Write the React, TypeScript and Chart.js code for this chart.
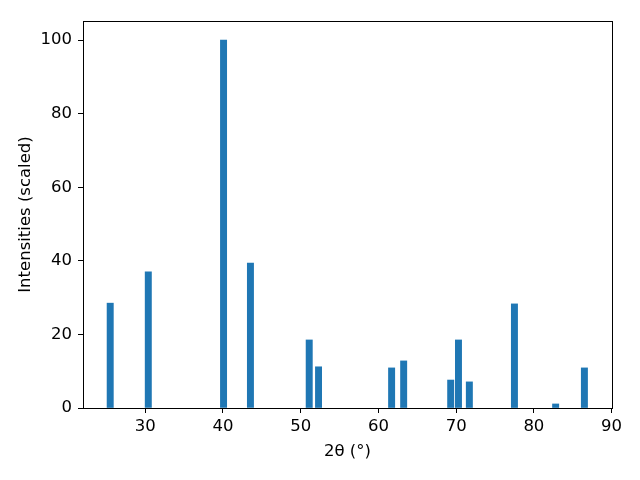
import React, { useEffect, useRef } from "react";
import { Chart, registerables } from "chart.js";

Chart.register(...registerables);

const twoTheta = [25.5, 30.4, 40.08, 43.54, 51.1, 52.3, 61.7, 63.25, 69.3, 70.3, 71.7, 77.5, 82.8, 86.5];
const intensities = [28.5, 37.0, 100, 39.4, 18.5, 11.2, 10.9, 12.8, 7.6, 18.5, 7.1, 28.3, 1.1, 10.9];
const xTicks = [30, 40, 50, 60, 70, 80, 90];
const yTicks = [0, 20, 40, 60, 80, 100];

const FONT = "'DejaVu Sans', sans-serif";
const FS = 16.5;

const frame = {
  id: "frame",
  afterDraw(chart: any) {
    const { ctx, chartArea: a } = chart;
    ctx.save();
    ctx.strokeStyle = "#000";
    ctx.lineWidth = 1;
    ctx.strokeRect(Math.round(a.left) + 0.5, Math.round(a.top) + 0.5, Math.round(a.right - a.left), Math.round(a.bottom - a.top));
    ctx.restore();
  },
};

export default function App() {
  const ref = useRef<HTMLCanvasElement>(null);
  useEffect(() => {
    document.body.style.margin = "0";
    const chart = new Chart(ref.current!, {
      type: "bar",
      data: {
        datasets: [
          {
            data: twoTheta.map((x, i) => ({ x, y: intensities[i] })),
            backgroundColor: "#1f77b4",
            barThickness: 6.3,
            borderWidth: 0,
          },
        ],
      },
      plugins: [frame],
      options: {
        animation: false,
        responsive: false,
        layout: { padding: { left: 0, top: 21, right: 28, bottom: 0 } },
        plugins: { legend: { display: false }, tooltip: { enabled: false } },
        scales: {
          x: {
            type: "linear",
            min: 22,
            max: 90.05,
            offset: false,
            afterBuildTicks: (s: any) => {
              s.ticks = xTicks.map((v) => ({ value: v }));
            },
            afterFit: (s: any) => {
              s.height = 72;
            },
            grid: { offset: false, drawOnChartArea: false, drawTicks: true, tickLength: 5, color: "#000" },
            border: { display: true, color: "#000" },
            ticks: { color: "#000", font: { family: FONT, size: FS }, padding: 4, maxRotation: 0 },
            title: { display: true, text: "2θ (°)", color: "#000", font: { family: FONT, size: FS }, padding: { top: 0, bottom: 18 } },
          },
          y: {
            type: "linear",
            min: 0,
            max: 105.2,
            afterBuildTicks: (s: any) => {
              s.ticks = yTicks.map((v) => ({ value: v }));
            },
            afterFit: (s: any) => {
              s.width = 83;
            },
            grid: { offset: false, drawOnChartArea: false, drawTicks: true, tickLength: 5, color: "#000" },
            border: { display: true, color: "#000" },
            ticks: { color: "#000", font: { family: FONT, size: FS }, padding: 6 },
            title: { display: true, text: "Intensities (scaled)", color: "#000", font: { family: FONT, size: FS }, padding: { top: 15.5, bottom: 0 } },
          },
        },
      } as any,
    });
    return () => chart.destroy();
  }, []);
  return (
    <div style={{ position: "absolute", left: 0, top: 0, width: 640, height: 480 }}>
      <canvas ref={ref} width={640} height={480} />
    </div>
  );
}
